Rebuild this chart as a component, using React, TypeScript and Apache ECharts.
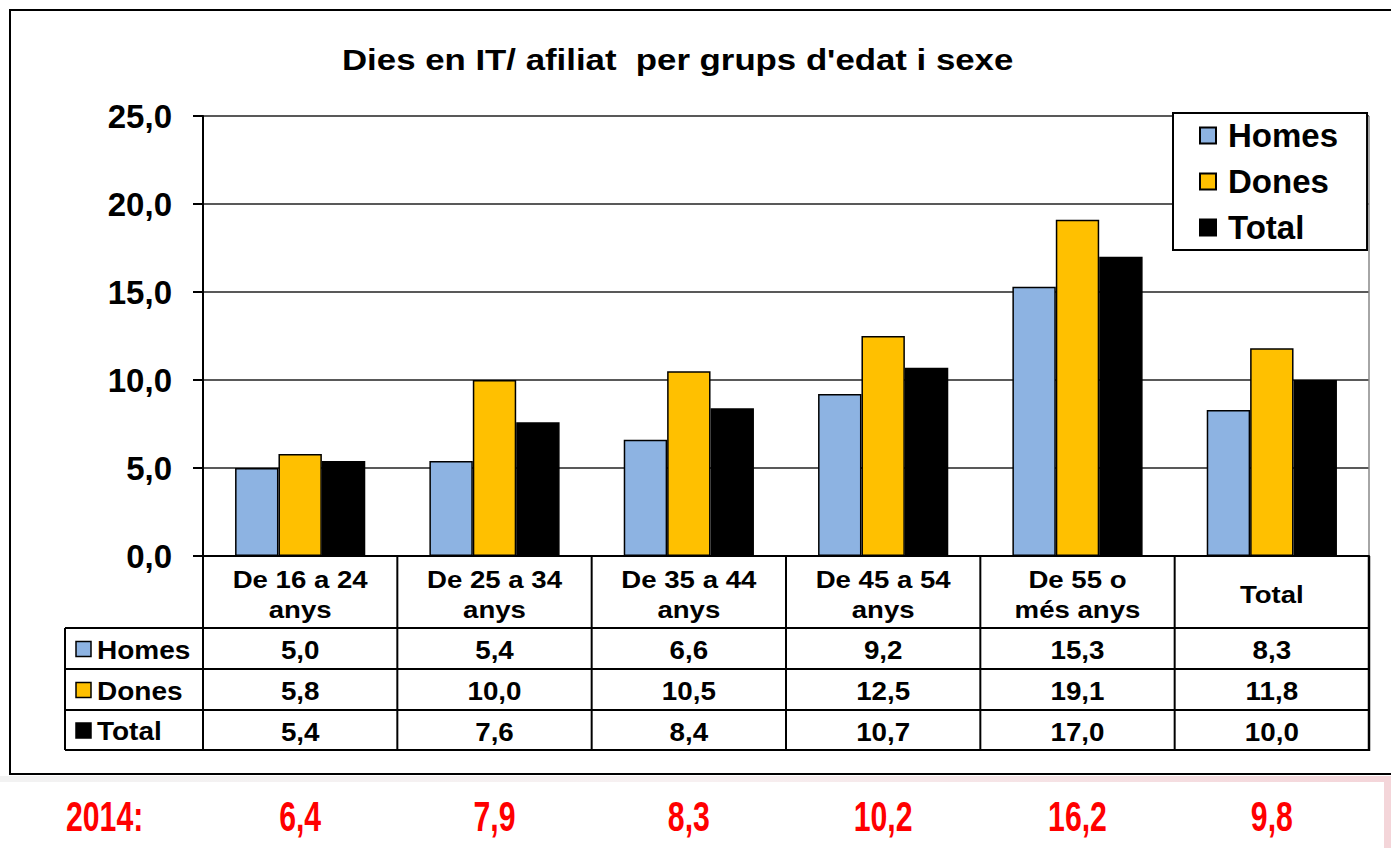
import React, { useEffect, useRef } from "react";
import * as echarts from "echarts";

const categories = [
  "De 16 a 24\nanys",
  "De 25 a 34\nanys",
  "De 35 a 44\nanys",
  "De 45 a 54\nanys",
  "De 55 o\nmés anys",
  "Total",
];
const seriesNames = ["Homes", "Dones", "Total"];
const homes = [5.0, 5.4, 6.6, 9.2, 15.3, 8.3];
const dones = [5.8, 10.0, 10.5, 12.5, 19.1, 11.8];
const total = [5.4, 7.6, 8.4, 10.7, 17.0, 10.0];
const prevLabel = "2014:";
const prev2014 = [6.4, 7.9, 8.3, 10.2, 16.2, 9.8];
const yMin = 0;
const yMax = 25;
const yInterval = 5;
const titleText = "Dies en IT/ afiliat  per grups d'edat i sexe";

const colors = ["#8DB3E2", "#FFC000", "#000000"];
const FONT = '"Liberation Sans", Arial, sans-serif';
const fmt = (v: number) => v.toFixed(1).replace(".", ",");

export default function App() {
  const ref = useRef<HTMLDivElement>(null);
  useEffect(() => {
    if (!ref.current) return;
    const chart = echarts.init(ref.current, null, { renderer: "svg", width: 1391, height: 848 });
    const data = [homes, dones, total];
    chart.setOption({
      animation: false,
      backgroundColor: "#ffffff",
      textStyle: { fontFamily: FONT },
      legend: {
        left: 1173,
        top: 113,
        orient: "vertical",
        icon: "rect",
        itemWidth: 16,
        itemHeight: 16,
        itemGap: 13,
        padding: [6, 29, 6, 26],
        borderColor: "#000",
        borderWidth: 2,
        backgroundColor: "#fff",
        data: seriesNames,
        textStyle: { fontSize: 33, fontWeight: "bold", color: "#000", fontFamily: FONT, padding: [0, 0, 0, 7] },
      },
      grid: { left: 203, right: 22, top: 116, height: 440, containLabel: false },
      xAxis: {
        type: "category",
        data: categories,
        axisLine: { lineStyle: { color: "#000", width: 2 } },
        axisTick: { show: false },
        axisLabel: { show: false },
      },
      yAxis: {
        type: "value",
        min: yMin,
        max: yMax,
        interval: yInterval,
        axisLine: { show: true, lineStyle: { color: "#000", width: 2 } },
        axisTick: { show: true, length: 10, lineStyle: { color: "#000", width: 2 } },
        axisLabel: {
          margin: 31,
          color: "#000",
          fontSize: 33,
          fontWeight: "bold",
          fontFamily: FONT,
          formatter: (v: number) => fmt(v),
        },
        splitLine: { lineStyle: { color: "#222", width: 1.5 } },
      },
      series: seriesNames.map((name, i) => ({
        name,
        type: "bar",
        data: data[i],
        barGap: "0%",
        barCategoryGap: "33%",
        itemStyle: { color: colors[i], borderColor: "#000", borderWidth: 1.5 },
      })),
    });

    const cx = categories.map((_, i) => chart.convertToPixel({ xAxisIndex: 0 }, i) as number);
    const band = cx[1] - cx[0];
    const y0 = chart.convertToPixel({ yAxisIndex: 0 }, yMin) as number;
    const yTop = chart.convertToPixel({ yAxisIndex: 0 }, yMax) as number;
    const xLeft = cx[0] - band / 2;
    const xRight = cx[cx.length - 1] + band / 2;
    const legendLeft = 65;
    const headerBottom = y0 + 72;
    const rowH = 41;
    const rowsY = [headerBottom, headerBottom + rowH, headerBottom + 2 * rowH, headerBottom + 3 * rowH - 1];
    const line = (x1: number, y1: number, x2: number, y2: number, stroke = "#000", lw = 2) => ({
      type: "line",
      silent: true,
      shape: { x1, y1, x2, y2 },
      style: { stroke, lineWidth: lw },
    });
    const txt = (
      text: string,
      x: number,
      y: number,
      size: number,
      scaleX: number,
      align: string,
      fill = "#000",
      extra: any = {}
    ) => ({
      type: "text",
      silent: true,
      x,
      y,
      scaleX,
      style: {
        text,
        fill,
        font: `bold ${size}px ${FONT}`,
        textAlign: align,
        textVerticalAlign: "middle",
        align,
        verticalAlign: "middle",
        ...extra,
      },
    });
    const els: any[] = [];
    // title
    els.push(txt(titleText, 342, 60, 29, 1.2, "left"));
    // outer frame
    els.push({
      type: "rect",
      silent: true,
      shape: { x: 10, y: 10, width: 1420, height: 764 },
      style: { fill: "none", stroke: "#000", lineWidth: 2 },
      z: 100,
    });
    // faint band below frame
    els.push({
      type: "rect",
      silent: true,
      shape: { x: 0, y: 776, width: 1391, height: 6 },
      style: {
        fill: new echarts.graphic.LinearGradient(0, 0, 1, 0, [
          { offset: 0, color: "#f2f2f2" },
          { offset: 0.5, color: "#f7f0f1" },
          { offset: 1, color: "#f4d5d9" },
        ]),
      },
    });
    els.push({
      type: "rect",
      silent: true,
      shape: { x: 1384, y: 776, width: 7, height: 72 },
      style: { fill: "#f4d5d9" },
    });
    // plot right border
    els.push(line(xRight, yTop, xRight, y0, "#888", 1.5));
    // table lines
    rowsY.forEach((y) => els.push(line(legendLeft, y, xRight + 1, y)));
    els.push(line(legendLeft, rowsY[0], legendLeft, rowsY[3]));
    for (let i = 0; i <= categories.length; i++) {
      const x = xLeft + i * band;
      els.push(line(x, y0, x, rowsY[3] + 1, "#000", i === categories.length ? 2.5 : 2));
    }
    // category header labels
    categories.forEach((c, i) => {
      els.push(txt(c, cx[i], (y0 + headerBottom) / 2 + 3, 23, 1.2, "center", "#000", { lineHeight: 30 }));
    });
    // table rows
    seriesNames.forEach((name, r) => {
      const cy = (rowsY[r] + rowsY[r + 1]) / 2 + 2;
      els.push({
        type: "rect",
        silent: true,
        shape: { x: 76, y: cy - 9, width: 15, height: 15 },
        style: { fill: colors[r], stroke: "#000", lineWidth: 1.5 },
      });
      els.push(txt(name, 97, cy, 25, 1.12, "left"));
      data[r].forEach((v, c) => {
        els.push(txt(fmt(v), cx[c], cy, 25, 1.11, "center"));
      });
    });
    // 2014 row
    const redY = 817;
    els.push(txt(prevLabel, 66, redY, 42, 0.72, "left", "#ff0000"));
    prev2014.forEach((v, c) => {
      els.push(txt(fmt(v), cx[c], redY, 42, 0.72, "center", "#ff0000"));
    });
    chart.setOption({ graphic: { elements: els } });
    return () => chart.dispose();
  }, []);
  return (
    <div
      ref={ref}
      style={{ position: "absolute", left: 0, top: 0, width: 1391, height: 848, background: "#fff" }}
    />
  );
}
